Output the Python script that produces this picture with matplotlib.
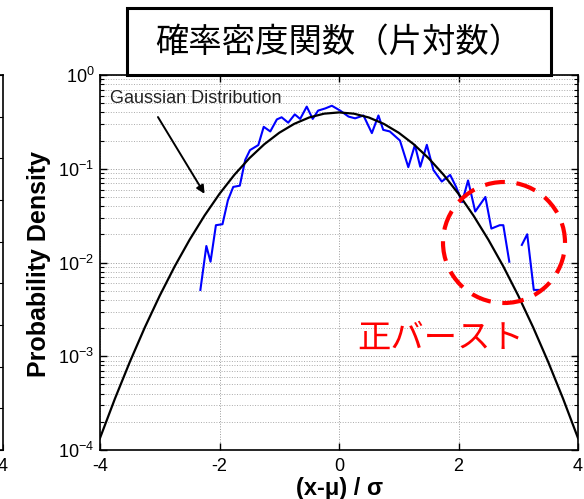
import numpy as np
import matplotlib
matplotlib.use("Agg")
import matplotlib.pyplot as plt
from matplotlib.patches import Rectangle, Ellipse
from matplotlib.ticker import LogLocator, NullFormatter

plt.rcParams['font.family'] = ['Liberation Sans', 'DejaVu Sans']
plt.rcParams['mathtext.fontset'] = 'custom'
plt.rcParams['mathtext.rm'] = 'Liberation Sans'
plt.rcParams['mathtext.it'] = 'Liberation Sans:italic'
plt.rcParams['mathtext.bf'] = 'Liberation Sans:bold'
plt.rcParams['axes.unicode_minus'] = False

CJK = ['Noto Sans CJK JP', 'DejaVu Sans']

TITLE = '確率密度関数（片対数）'
BURST = '正バースト'
GAUSS_LABEL = 'Gaussian Distribution'
XLABEL = '(x-μ) / σ'
YLABEL = 'Probability Density'

XTICKS = [-4, -2, 0, 2, 4]

gauss_x = [-4.0, -3.75, -3.5, -3.25, -3.0, -2.75, -2.5, -2.25, -2.0, -1.75,
           -1.5, -1.25, -1.0, -0.75, -0.5, -0.25, 0.0, 0.25, 0.5, 0.75,
           1.0, 1.25, 1.5, 1.75, 2.0, 2.25, 2.5, 2.75, 3.0, 3.25,
           3.5, 3.75, 4.0]
gauss_y = [1.34e-4, 3.53e-4, 8.73e-4, 2.03e-3, 4.43e-3, 9.09e-3, 1.75e-2, 3.17e-2, 5.40e-2, 8.63e-2,
           0.1295, 0.1826, 0.2420, 0.3011, 0.3521, 0.3867, 0.3989, 0.3867, 0.3521, 0.3011,
           0.2420, 0.1826, 0.1295, 8.63e-2, 5.40e-2, 3.17e-2, 1.75e-2, 9.09e-3, 4.43e-3, 2.03e-3,
           8.73e-4, 3.53e-4, 1.34e-4]

# measured density (blue), nan = empty bin
meas_x = [-2.32, -2.22, -2.15, -2.06, -1.95, -1.86, -1.77, -1.66, -1.57, -1.49,
          -1.35, -1.26, -1.15, -1.04, -0.96, -0.85, -0.74, -0.65, -0.54, -0.44,
          -0.35, -0.23, -0.12, 0.02, 0.16, 0.27, 0.41, 0.55, 0.66, 0.74,
          0.85, 1.02, 1.16, 1.27, 1.36, 1.47, 1.58, 1.72, 1.86, 1.96,
          2.06, 2.16, 2.28, 2.45, 2.55, 2.69, 2.75, 2.85, 2.95, 3.06,
          3.15, 3.26, 3.42]
meas_y = [0.0051, 0.015, 0.0102, 0.025, 0.0256, 0.046, 0.064, 0.066, 0.124, 0.158,
          0.179, 0.28, 0.25, 0.336, 0.354, 0.31, 0.38, 0.34, 0.46, 0.34,
          0.417, 0.44, 0.47, 0.417, 0.36, 0.345, 0.37, 0.24, 0.37, 0.26,
          0.25, 0.20, 0.104, 0.179, 0.105, 0.18, 0.097, 0.073, 0.086, 0.064,
          0.044, 0.075, 0.035, 0.05, 0.023, 0.025, 0.025, 0.0102, np.nan, 0.0154,
          0.02, 0.0051, 0.0051]

W, H = 584, 499
fig = plt.figure(figsize=(W / 100, H / 100), dpi=100)


def fx(px):
    return px / W


def fy(py):
    return 1 - py / H


ax_w = fx(578) - fx(100)
ax_h = fy(75) - fy(450)

# cut-off neighbour panel at the left edge (only its right edge is in view)
ax0 = fig.add_axes([fx(3) - ax_w, fy(450), ax_w, ax_h])
ax0.set_xlim(-4, 4)
ax0.set_ylim(0, 9)
ax0.set_xticks([4])
ax0.set_yticks(range(10))
ax0.set_yticklabels([])
ax0.tick_params(direction='in', right=True, left=False, top=False,
                length=4, labelsize=13, pad=6)
for s in ax0.spines.values():
    s.set_linewidth(1.2)

ax = fig.add_axes([fx(100), fy(450), ax_w, ax_h])
ax.set_yscale('log')
ax.set_xlim(-4, 4)
ax.set_ylim(1e-4, 1)
ax.set_xticks(XTICKS)
ax.yaxis.set_major_locator(LogLocator(base=10, numticks=10))
ax.yaxis.set_minor_locator(LogLocator(base=10, subs=np.arange(2, 10), numticks=10))
ax.yaxis.set_minor_formatter(NullFormatter())
ax.grid(True, which='major', ls=':', color='#999999', lw=0.7)
ax.grid(True, which='minor', axis='y', ls=':', color='#aaaaaa', lw=0.7)
ax.tick_params(which='both', direction='in', top=True, right=True, labelsize=13)
ax.tick_params(which='major', length=5, width=1)
ax.tick_params(which='minor', length=3, width=0.8)
ax.tick_params(axis='x', pad=6)
ax.tick_params(axis='y', pad=4)
for s in ax.spines.values():
    s.set_linewidth(1.2)

ax.plot(meas_x, meas_y, color='#0000ff', lw=1.5, zorder=3)
ax.plot(gauss_x, gauss_y, color='black', lw=1.6, zorder=4)

ax.text(-3.83, 0.555, GAUSS_LABEL, fontsize=13, color='#222222',
        ha='left', va='center')
ax.annotate('', xy=(-2.25, 0.054), xytext=(-3.03, 0.356),
            arrowprops=dict(arrowstyle='-|>', color='black', lw=1.4,
                            mutation_scale=12, shrinkA=0, shrinkB=0))

fig.text(fx(39), fy(264), YLABEL, rotation=90, fontsize=18, weight='bold',
         ha='center', va='center')
fig.text(fx(340), fy(488), XLABEL, fontsize=17, weight='bold',
         ha='center', va='center')

# title box
fig.add_artist(Rectangle((fx(127), fy(75)), fx(551) - fx(127), fy(8) - fy(75),
                         transform=fig.transFigure, fc='white', ec='black',
                         lw=2.2, zorder=5))
fig.text(fx(339), fy(42), TITLE, fontsize=24, family=CJK,
         ha='center', va='center', zorder=6)

# red callout
fig.add_artist(Ellipse((fx(504), fy(242.5)), 122 / W, 121 / H,
                       transform=fig.transFigure, fill=False, ec='#ff0000',
                       lw=3, ls=(0, (4.8, 2.8)), zorder=5))
fig.text(fx(441), fy(338), BURST, fontsize=24, family=CJK, color='#ff0000',
         ha='center', va='center', zorder=6)

fig.savefig('out.png', dpi=100)
